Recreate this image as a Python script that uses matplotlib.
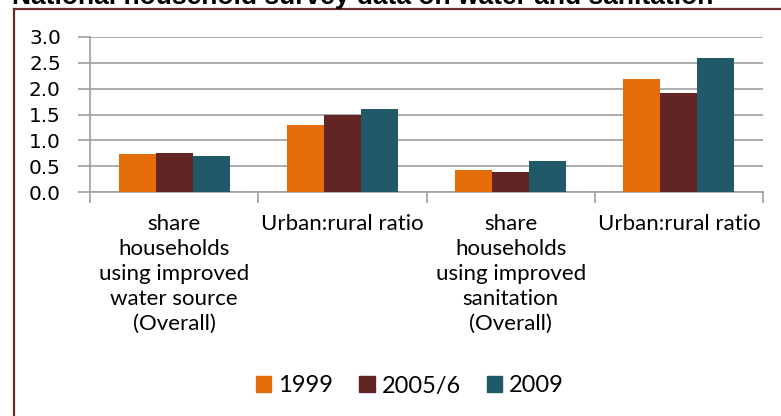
import numpy as np
import matplotlib.pyplot as plt
import matplotlib.patches as mpatches
from matplotlib.lines import Line2D

categories = ["share\nhouseholds\nusing improved\nwater source\n(Overall)",
              "Urban:rural ratio",
              "share\nhouseholds\nusing improved\nsanitation\n(Overall)",
              "Urban:rural ratio"]
years = ["1999", "2005/6", "2009"]
vals_1999 = [0.73, 1.30, 0.43, 2.19]
vals_2005 = [0.75, 1.49, 0.38, 1.92]
vals_2009 = [0.70, 1.60, 0.60, 2.59]
colors = ["#E46C0A", "#632523", "#215968"]

W, H = 781, 416
fig = plt.figure(figsize=(W/100, H/100), dpi=100)

# frame around chart (only top and left edges are visible)
fig.add_artist(Line2D([13.5/W, 13.5/W], [0, 1 - 9/H], color="#6B2C2C", lw=1.6, transform=fig.transFigure))
fig.add_artist(Line2D([13.5/W, 1], [1 - 9/H, 1 - 9/H], color="#6B2C2C", lw=1.6, transform=fig.transFigure))

# title, cut off at the top
fig.text(12/W, 1 - 4/H, "National household survey data on water and sanitation",
         fontsize=19, fontweight="bold", family="Liberation Sans", va="baseline", ha="left")

ax = fig.add_axes([90/W, 1 - 192/H, 673/W, 155/H])
x = np.arange(len(categories))
bw = 0.22
for k, (vals, c, lab) in enumerate(zip([vals_1999, vals_2005, vals_2009], colors, years)):
    ax.bar(x + (k - 1)*bw, vals, width=bw, color=c, label=lab, zorder=3)

ax.set_xlim(-0.5, 3.5)
ax.set_ylim(0, 3.0)
ax.set_yticks(np.arange(0, 3.01, 0.5))
ax.set_yticklabels([f"{v:.1f}" for v in np.arange(0, 3.01, 0.5)], fontsize=14.4, family="DejaVu Sans")
ax.yaxis.grid(True, color="#A0A0A0", lw=1.2, zorder=0)
ax.tick_params(axis="y", length=9, color="#A0A0A0", width=1.2, pad=12)

ax.set_xticks(x)
ax.set_xticklabels(categories, fontsize=16, family="Lato", linespacing=1.3, va="top")
ax.set_xticks(np.arange(-0.5, 3.6, 1), minor=True)
ax.tick_params(axis="x", which="major", length=0, pad=16)
ax.tick_params(axis="x", which="minor", length=8, color="#A0A0A0", width=1.2)

for s in ["top", "right"]:
    ax.spines[s].set_visible(False)
for s in ["left", "bottom"]:
    ax.spines[s].set_color("#A0A0A0")
    ax.spines[s].set_linewidth(1.2)

handles = [mpatches.Patch(color=c, label=l) for c, l in zip(colors, years)]
fig.legend(handles=handles, loc="center", bbox_to_anchor=(410/W, 1 - 386/H), ncol=3,
           frameon=False, prop={"family": "Lato", "size": 17},
           handlelength=0.65, handleheight=0.65, handletextpad=0.3, columnspacing=1.1)

plt.savefig("out.png", dpi=100)
